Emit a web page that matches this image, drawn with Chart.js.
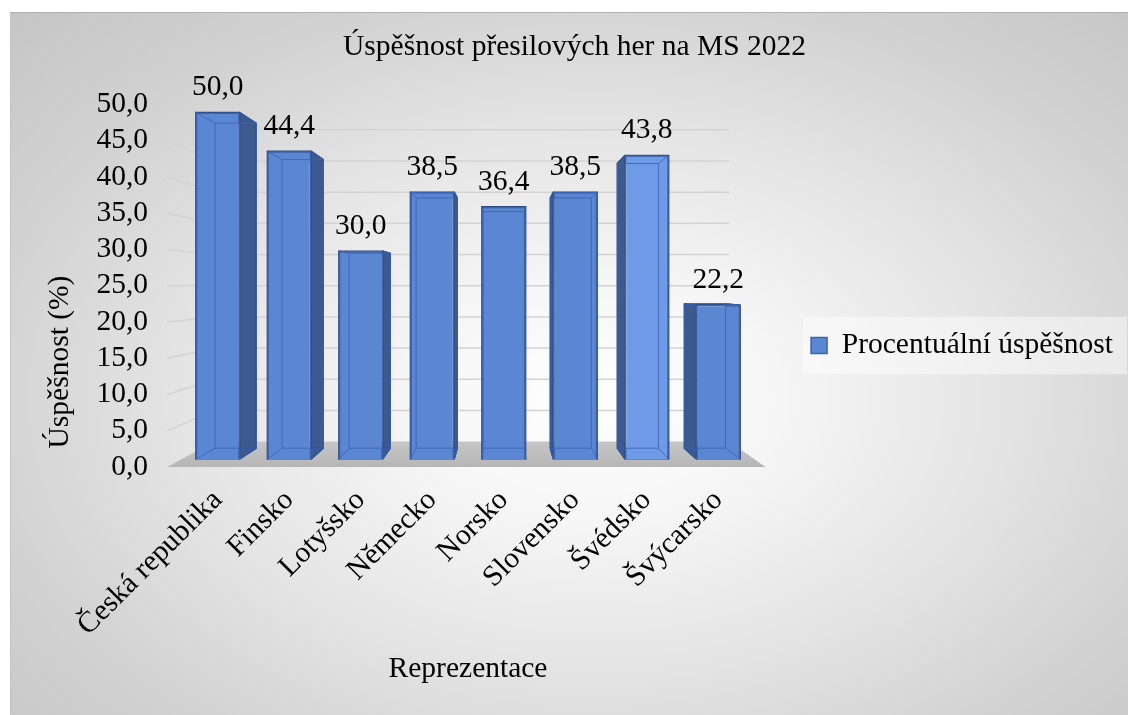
<!DOCTYPE html>
<html lang="cs">
<head>
<meta charset="utf-8">
<title>Úspěšnost přesilových her na MS 2022</title>
<script src="https://cdn.jsdelivr.net/npm/chart.js@4.4.1/dist/chart.umd.min.js"></script>
<style>
  html, body { margin: 0; padding: 0; background: #fff; }
  #wrap { position: relative; width: 1128px; height: 715px; overflow: hidden; }
  #frame {
    position: absolute; left: 10px; top: 12px; right: 0; bottom: 0;
    border-top: 1px solid #b2b2b2; border-left: 1px solid #c4c4c4;
    background: radial-gradient(ellipse farthest-corner at 52% 55%,
      #ffffff 0%, #f6f6f6 22%, #e4e4e4 50%, #d2d2d2 75%, #c5c5c5 100%);
  }
  #chart { position: absolute; left: 0; top: 0; }
</style>
</head>
<body>
<div id="wrap">
  <div id="frame"></div>
  <canvas id="chart" width="1128" height="715"></canvas>
</div>
<script>
// data
const categories = ['Česká republika', 'Finsko', 'Lotyšsko', 'Německo', 'Norsko', 'Slovensko', 'Švédsko', 'Švýcarsko'];
const successRate = [50.0, 44.4, 30.0, 38.5, 36.4, 38.5, 43.8, 22.2];
const seriesName = 'Procentuální úspěšnost';
const Y_MIN = 0;
const Y_MAX = 50;
const Y_STEP = 5;

const FONT = '"Liberation Serif", "Times New Roman", serif';
const FONT_SIZE = 29.5;
const TEXT = '#000000';

// pseudo 3D: depth factors toward the vanishing point
const FRONT_DEPTH = 0.956;   // front face of the bars
const BAR_DEPTH = 0.9375;    // back face relative to the front face
const WALL_DEPTH = 0.86;     // back wall + floor

const BAR_FILL = '#5b86d1';
const BAR_FILL_LIGHT = '#6f9ae6';
const BAR_EDGE = '#3a64b3';
const SIDE_FILL = '#3d5a8e';
const SIDE_EDGE = '#2d4a80';

function fmt(v) {
    return v.toFixed(1).replace('.', ',');
}

function vanishing(chart) {
    const a = chart.chartArea;
    // Norsko stands right in front of the eye -> no side visible
    return { x: chart.scales.x.getPixelForValue(4), y: (a.top + a.bottom) / 2 };
}

function project(p, vp, s) {
    return { x: vp.x + (p.x - vp.x) * s, y: vp.y + (p.y - vp.y) * s };
}

function poly(ctx, pts) {
    ctx.beginPath();
    ctx.moveTo(pts[0].x, pts[0].y);
    for (let i = 1; i < pts.length; i++) ctx.lineTo(pts[i].x, pts[i].y);
    ctx.closePath();
}

function barCorners(bar) {
    const { x, y, base, width } = bar.getProps(['x', 'y', 'base', 'width'], true);
    const l = x - width / 2, r = x + width / 2;
    return [{ x: l, y: y }, { x: r, y: y }, { x: r, y: base }, { x: l, y: base }];
}

const depthPlugin = {
    id: 'depth3d',
    beforeDraw(chart) {
        // light panel behind the legend
        const lg = chart.legend;
        if (!lg || !lg.legendHitBoxes || !lg.legendHitBoxes.length) return;
        const hb = lg.legendHitBoxes[0];
        const ctx = chart.ctx;
        ctx.save();
        ctx.fillStyle = 'rgba(255,255,255,0.45)';
        ctx.fillRect(hb.left - 8, hb.top - 14, hb.width + 22, hb.height + 28);
        ctx.restore();
    },
    beforeDatasetsDraw(chart) {
        const ctx = chart.ctx;
        const a = chart.chartArea;
        const vp = vanishing(chart);
        const y = chart.scales.y;
        // outer box at depth 1
        const x1 = vp.x + (a.left - vp.x) / FRONT_DEPTH;
        const x2 = vp.x + (a.right - vp.x) / FRONT_DEPTH;
        const bx1 = vp.x + (x1 - vp.x) * WALL_DEPTH;
        const bx2 = vp.x + (x2 - vp.x) * WALL_DEPTH;

        ctx.save();
        // gridlines: side wall + back wall
        ctx.strokeStyle = '#d3d3d3';
        ctx.lineWidth = 1.5;
        y.ticks.forEach(t => {
            if (t.value === Y_MIN) return;
            const py = y.getPixelForValue(t.value);
            const by = vp.y + (py - vp.y) * WALL_DEPTH;
            ctx.beginPath();
            ctx.moveTo(x1, py);
            ctx.lineTo(bx1, by);
            ctx.lineTo(bx2, by);
            ctx.stroke();
        });

        // floor
        const fy = y.getPixelForValue(Y_MIN);
        const bfy = vp.y + (fy - vp.y) * WALL_DEPTH;
        const g = ctx.createLinearGradient(0, bfy, 0, fy);
        g.addColorStop(0, '#c6c6c6');
        g.addColorStop(1, '#b6b6b6');
        ctx.fillStyle = g;
        poly(ctx, [{ x: x1, y: fy }, { x: x2, y: fy }, { x: bx2, y: bfy }, { x: bx1, y: bfy }]);
        ctx.fill();

        // bar sides (hidden parts get covered by the front face)
        const meta = chart.getDatasetMeta(0);
        ctx.fillStyle = SIDE_FILL;
        ctx.strokeStyle = SIDE_EDGE;
        ctx.lineWidth = 1.2;
        ctx.lineJoin = 'round';
        meta.data.forEach(bar => {
            const f = barCorners(bar);
            const b = f.map(p => project(p, vp, BAR_DEPTH));
            for (let i = 0; i < 4; i++) {
                const j = (i + 1) % 4;
                poly(ctx, [f[i], f[j], b[j], b[i]]);
                ctx.fill();
                ctx.stroke();
            }
        });
        ctx.restore();
    },
    afterDatasetsDraw(chart) {
        const ctx = chart.ctx;
        const vp = vanishing(chart);
        const meta = chart.getDatasetMeta(0);
        ctx.save();
        // back edges seen through the front face
        ctx.strokeStyle = 'rgba(58,100,185,0.85)';
        ctx.lineWidth = 1;
        meta.data.forEach(bar => {
            const f = barCorners(bar);
            const b = f.map(p => project(p, vp, BAR_DEPTH));
            poly(ctx, b);
            ctx.stroke();
            for (let i = 0; i < 4; i++) {
                ctx.beginPath();
                ctx.moveTo(f[i].x, f[i].y);
                ctx.lineTo(b[i].x, b[i].y);
                ctx.stroke();
            }
        });

        // data labels
        ctx.fillStyle = TEXT;
        ctx.font = FONT_SIZE + 'px ' + FONT;
        ctx.textAlign = 'center';
        ctx.textBaseline = 'alphabetic';
        meta.data.forEach((bar, i) => {
            ctx.fillText(fmt(successRate[i]), bar.x, bar.y - 17);
        });
        ctx.restore();
    },
    afterDraw(chart) {
        // y axis title
        const ctx = chart.ctx;
        const a = chart.chartArea;
        ctx.save();
        ctx.translate(a.left - 122, a.bottom - 105);
        ctx.rotate(-Math.PI / 2);
        ctx.fillStyle = TEXT;
        ctx.font = FONT_SIZE + 'px ' + FONT;
        ctx.textAlign = 'center';
        ctx.textBaseline = 'middle';
        ctx.fillText('Úspěšnost (%)', 0, 0);
        ctx.restore();
    }
};

const mid = (Y_MIN + Y_MAX) / 2;
const half = (Y_MAX - Y_MIN) / 2;

new Chart(document.getElementById('chart'), {
    type: 'bar',
    data: {
        labels: categories,
        datasets: [{
            label: seriesName,
            data: successRate,
            yAxisID: 'y2',
            backgroundColor: c => c.dataIndex === 6 ? BAR_FILL_LIGHT : BAR_FILL,
            borderColor: BAR_EDGE,
            borderWidth: 1.5,
            barPercentage: 0.615,
            categoryPercentage: 1
        }]
    },
    options: {
        responsive: false,
        animation: false,
        layout: { padding: { left: 26, right: 5, top: 0, bottom: 24 } },
        plugins: {
            title: {
                display: true,
                text: 'Úspěšnost přesilových her na MS 2022',
                color: TEXT,
                font: { family: FONT, size: FONT_SIZE, weight: 'normal' },
                padding: { top: 30, bottom: 39 }
            },
            legend: {
                position: 'right',
                maxWidth: 400,
                labels: {
                    color: TEXT,
                    font: { family: FONT, size: FONT_SIZE },
                    boxWidth: 16,
                    boxHeight: 16,
                    padding: 57
                }
            },
            tooltip: { enabled: false }
        },
        scales: {
            x: {
                grid: { display: false, drawTicks: false },
                border: { display: false },
                ticks: {
                    color: TEXT,
                    font: { family: FONT, size: FONT_SIZE },
                    autoSkip: false,
                    minRotation: 45,
                    maxRotation: 45,
                    padding: 16
                },
                title: {
                    display: true,
                    text: 'Reprezentace',
                    color: TEXT,
                    font: { family: FONT, size: FONT_SIZE },
                    padding: { top: 0, bottom: 4 }
                },
                afterFit: s => { s.height = 224; }
            },
            y: {
                min: Y_MIN,
                max: Y_MAX,
                grid: { display: false, drawTicks: false },
                border: { display: false },
                ticks: {
                    stepSize: Y_STEP,
                    autoSkip: false,
                    color: TEXT,
                    font: { family: FONT, size: FONT_SIZE },
                    padding: 34,
                    callback: v => fmt(v)
                },
                afterFit: s => { s.width = 156; }
            },
            // bars sit a bit deeper than the axis plane
            y2: {
                display: false,
                min: mid - half / FRONT_DEPTH,
                max: mid + half / FRONT_DEPTH
            }
        }
    },
    plugins: [depthPlugin]
});
</script>
</body>
</html>
